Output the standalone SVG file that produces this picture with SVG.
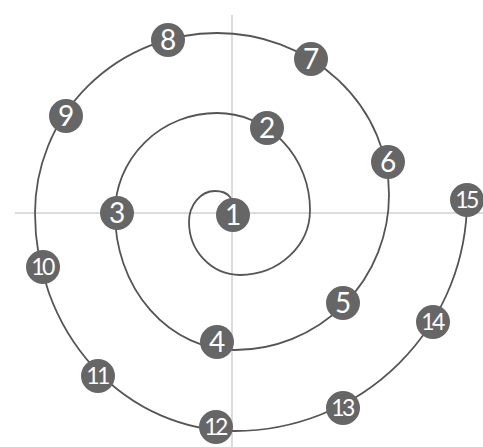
<svg xmlns="http://www.w3.org/2000/svg" width="483" height="447" viewBox="0 0 483 447">
<style>
.axis{stroke:#dcdcdc;stroke-width:2;fill:none}
.spiral{stroke:#555;stroke-width:1.8;fill:none}
.node circle{fill:#666}
.node text{fill:#fff;font-family:Lato,"Liberation Sans",sans-serif;font-size:28px;text-anchor:middle}
.node text.d{font-size:23px;letter-spacing:-2.5px}
</style>
<rect width="483" height="447" fill="#fff"/>
<g id="axes">
<line class="axis" x1="232" y1="15" x2="232" y2="447"/>
<line class="axis" x1="15" y1="213" x2="483" y2="213"/>
</g>
<g id="connectors">
<path class="spiral" d="M233,215 Q236,191 215,191 A26 31 0 0 0 189,222 A51 53 0 0 0 240,275 A70 65 0 0 0 310,210 A93 97 0 0 0 217,113 A102 100 0 0 0 115,213 A120 137 0 0 0 235,350 A154 155 0 0 0 389,195 A172 162 0 0 0 217,33 A182 180 0 0 0 35,213 A200 218 0 0 0 235,431 A232 231 0 0 0 467,200"/>
</g>
<g id="n1" class="node"><circle cx="233" cy="215" r="17"/><text x="233" y="225">1</text></g>
<g id="n2" class="node"><circle cx="267" cy="128" r="17"/><text x="267" y="138">2</text></g>
<g id="n3" class="node"><circle cx="117" cy="213" r="17"/><text x="117" y="223">3</text></g>
<g id="n4" class="node"><circle cx="217" cy="342" r="17"/><text x="217" y="352">4</text></g>
<g id="n5" class="node"><circle cx="343" cy="303" r="17"/><text x="343" y="313">5</text></g>
<g id="n6" class="node"><circle cx="388" cy="162" r="17"/><text x="388" y="172">6</text></g>
<g id="n7" class="node"><circle cx="311" cy="59" r="17"/><text x="311" y="69">7</text></g>
<g id="n8" class="node"><circle cx="168" cy="40" r="17"/><text x="168" y="50">8</text></g>
<g id="n9" class="node"><circle cx="66" cy="116" r="17"/><text x="66" y="126">9</text></g>
<g id="n10" class="node"><circle cx="43" cy="267" r="17"/><text class="d" x="42" y="275">10</text></g>
<g id="n11" class="node"><circle cx="98" cy="376" r="17"/><text class="d" x="97" y="384">11</text></g>
<g id="n12" class="node"><circle cx="216" cy="427" r="17"/><text class="d" x="215" y="435">12</text></g>
<g id="n13" class="node"><circle cx="343" cy="408" r="17"/><text class="d" x="342" y="416">13</text></g>
<g id="n14" class="node"><circle cx="433" cy="322" r="17"/><text class="d" x="432" y="330">14</text></g>
<g id="n15" class="node"><circle cx="467" cy="200" r="17"/><text class="d" x="466" y="208">15</text></g>
</svg>
